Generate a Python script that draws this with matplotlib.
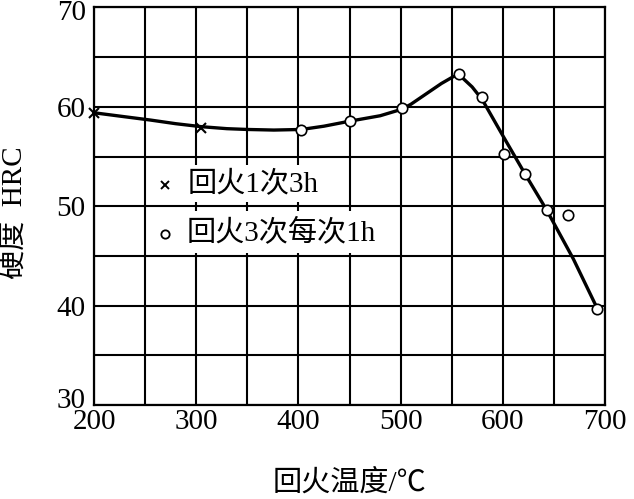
import matplotlib
matplotlib.use("Agg")
import matplotlib.pyplot as plt
from matplotlib.patches import Rectangle
from matplotlib.transforms import ScaledTranslation

# ---- data ----
once_x = [200, 305]
once_y = [59.4, 57.9]

thrice_x = [403, 450.5, 501, 557, 580, 601, 622, 643, 664, 692]
thrice_y = [57.7, 58.6, 59.85, 63.35, 61.0, 55.3, 53.2, 49.6, 49.1, 39.65]

curve_x = [200, 230, 255, 280, 305, 330, 350, 376, 403, 425, 450, 480, 501,
           510, 520, 530, 540, 551, 557, 570, 580, 600, 622, 643, 669, 692]
curve_y = [59.4, 59.0, 58.67, 58.3, 58.0, 57.8, 57.72, 57.66, 57.72, 58.05,
           58.55, 59.1, 59.75, 60.25, 60.95, 61.65, 62.35, 63.0, 63.25, 62.0,
           60.7, 57.1, 53.2, 49.6, 44.7, 39.8]

x_ticks = [200, 300, 400, 500, 600, 700]
y_ticks = [30, 40, 50, 60, 70]
legend_labels = ["回火1次3h", "回火3次每次1h"]
x_label = "回火温度/℃"
y_label = "硬度  HRC"

FAM = ["Liberation Serif", "Noto Sans CJK SC", "DejaVu Serif"]
plt.rcParams["font.family"] = FAM

fig = plt.figure(figsize=(6.34, 4.99), dpi=100)
ax = fig.add_axes([94 / 634, 1 - 405 / 499, 511 / 634, 397.6 / 499])

ax.set_xlim(200, 700)
ax.set_ylim(30, 70)
ax.set_xticks(x_ticks)
ax.set_yticks(y_ticks)
ax.set_xticks(range(200, 701, 50), minor=True)
ax.set_yticks(range(30, 71, 5), minor=True)
ax.tick_params(which="both", length=0)
ax.tick_params(axis="x", labelsize=21, pad=3)
ax.tick_params(axis="y", labelsize=21, pad=6)
ax.set_axisbelow(True)
ax.grid(which="both", color="black", linewidth=1.5)
for s in ax.spines.values():
    s.set_linewidth(1.6)
    s.set_color("black")

# nudge end labels like reference
for lab in ax.get_yticklabels():
    if lab.get_text() == "30":
        lab.set_transform(lab.get_transform() + ScaledTranslation(0, 7 / 100, fig.dpi_scale_trans))
    if lab.get_text() == "70":
        lab.set_transform(lab.get_transform() + ScaledTranslation(0, -3 / 100, fig.dpi_scale_trans))

ax.plot(curve_x, curve_y, color="black", linewidth=2.4, zorder=3, clip_on=False,
        solid_joinstyle="round")
ax.plot(once_x, once_y, linestyle="none", marker="x", markersize=7,
        markeredgewidth=1.5, color="black", zorder=4, clip_on=False)
ax.plot(thrice_x, thrice_y, linestyle="none", marker="o", markersize=7.5,
        markerfacecolor="white", markeredgecolor="black", markeredgewidth=1.2,
        zorder=4, clip_on=False)

# legend boxes
ax.add_patch(Rectangle((0.1135, 0.5106), 0.368, 0.093, transform=ax.transAxes,
                       facecolor="white", edgecolor="none", zorder=2))
ax.add_patch(Rectangle((0.1135, 0.3823), 0.4716, 0.1056, transform=ax.transAxes,
                       facecolor="white", edgecolor="none", zorder=2))
ax.plot([0.139], [0.553], transform=ax.transAxes, marker="x", markersize=6,
        markeredgewidth=1.4, color="black", linestyle="none", zorder=5)
ax.plot([0.139], [0.430], transform=ax.transAxes, marker="o", markersize=6,
        markerfacecolor="white", markeredgecolor="black", markeredgewidth=1.3,
        linestyle="none", zorder=5)
ax.text(0.184, 0.5546, legend_labels[0], transform=ax.transAxes, fontsize=21,
        ha="left", va="center", zorder=5)
ax.text(0.181, 0.4339, legend_labels[1], transform=ax.transAxes, fontsize=21,
        ha="left", va="center", zorder=5)

fig.text(349.5 / 634, 1 - 483 / 499, x_label, fontsize=21, ha="center", va="center")
fig.text(14 / 634, 1 - 213 / 499, y_label, fontsize=21, ha="center", va="center",
         rotation=90)

fig.savefig("out.png", dpi=100, facecolor="white")
